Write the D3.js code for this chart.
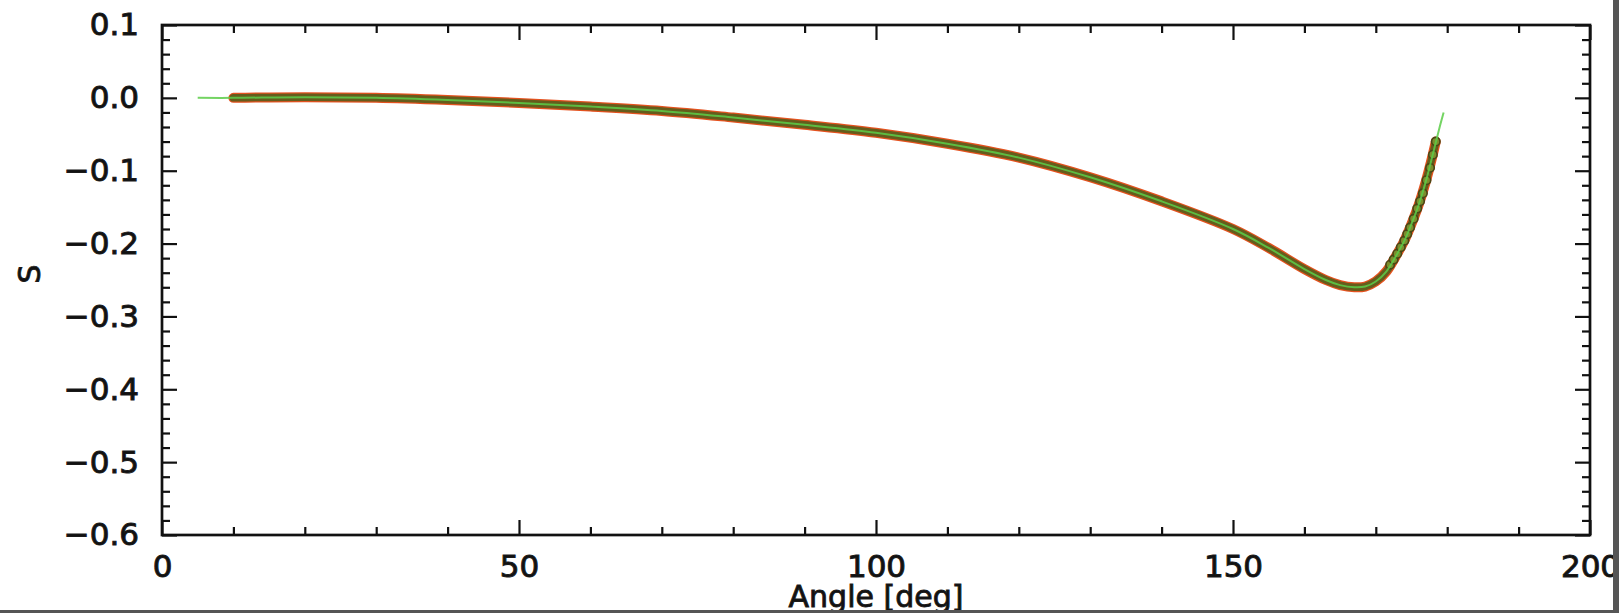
<!DOCTYPE html>
<html>
<head>
<meta charset="utf-8">
<script src="https://cdn.jsdelivr.net/npm/d3@7"></script>
<style>
  body { margin: 0; background: #fff; }
  svg { display: block; }
  text { font-family: "DejaVu Sans", sans-serif; fill: #111; }
</style>
</head>
<body>
<svg id="chart" width="1619" height="613"></svg>
<script>
// values
var fitAngle = [5, 10, 20, 30, 40, 50, 60, 70, 80, 90, 100, 110, 120, 130, 140, 150, 155, 160, 163, 165, 167, 168.5, 170, 171.5, 173, 174, 175, 176, 177, 178, 179, 179.5];
var fitS     = [0.000, 0.000, 0.001, 0.000, -0.003, -0.007, -0.012, -0.018, -0.027, -0.037, -0.048, -0.063, -0.082, -0.109, -0.142, -0.180, -0.206, -0.235, -0.250, -0.257, -0.260, -0.259, -0.252, -0.238, -0.214, -0.196, -0.173, -0.147, -0.115, -0.077, -0.038, -0.020];

var dataAngle = [10, 20, 30, 40, 50, 60, 70, 80, 90, 100, 110, 120, 130, 140, 150, 155, 160, 163, 165, 167, 168.5, 170, 171.5, 173, 174, 175, 176, 177, 178, 178.4];
var dataS     = [0.000, 0.001, 0.000, -0.003, -0.007, -0.012, -0.018, -0.027, -0.037, -0.048, -0.063, -0.082, -0.109, -0.142, -0.180, -0.206, -0.235, -0.250, -0.257, -0.260, -0.259, -0.252, -0.238, -0.214, -0.196, -0.173, -0.147, -0.115, -0.077, -0.060];

// separate symbols seen on the steep end
var markAngle = [172.0, 172.5, 173.0, 173.5, 174.0, 174.4, 174.8, 175.3, 175.8, 176.2, 176.6, 177.1, 177.6, 178.0, 178.4];
var markS     = [-0.229, -0.222, -0.214, -0.205, -0.196, -0.187, -0.178, -0.166, -0.152, -0.142, -0.131, -0.113, -0.096, -0.078, -0.060];

var xMajor = [0, 50, 100, 150, 200];
var xMinor = [10, 20, 30, 40, 60, 70, 80, 90, 110, 120, 130, 140, 160, 170, 180, 190];
var yMajor = [0.1, 0.0, -0.1, -0.2, -0.3, -0.4, -0.5, -0.6];
var yMinor = [];
for (var i = 0; i < 7; i++) {
  for (var j = 1; j < 5; j++) yMinor.push(+(0.1 - i * 0.1 - j * 0.02).toFixed(2));
}

var svg = d3.select("#chart");
var pLeft = 162, pTop = 25, pRight = 1590, pBottom = 535;

var x = d3.scaleLinear().domain([0, 200]).range([pLeft, pRight]);
var y = d3.scaleLinear().domain([-0.6, 0.1]).range([pBottom, pTop]);

function fmtY(d) {
  return (d < 0 ? "\u2212" : "") + Math.abs(d).toFixed(1);
}

// axes, ticks point inward on all four sides
function drawAxis(axis, tr) {
  var g = svg.append("g").attr("transform", tr).call(axis);
  g.select(".domain").remove();
  g.selectAll(".tick line").attr("stroke", "#111").attr("stroke-width", 2.2);
  g.selectAll("text").attr("font-size", 31).attr("font-family", "DejaVu Sans")
    .attr("fill", "#1a1a1a").attr("stroke", "#1a1a1a").attr("stroke-width", 1);
  return g;
}

drawAxis(d3.axisBottom(x).tickValues(xMinor).tickSize(-8).tickFormat(""), "translate(0," + pBottom + ")");
drawAxis(d3.axisBottom(x).tickValues(xMajor).tickSize(-15).tickPadding(20).tickFormat(d3.format("d")), "translate(0," + pBottom + ")");
drawAxis(d3.axisTop(x).tickValues(xMinor).tickSize(-8).tickFormat(""), "translate(0," + pTop + ")");
drawAxis(d3.axisTop(x).tickValues(xMajor).tickSize(-15).tickFormat(""), "translate(0," + pTop + ")");

drawAxis(d3.axisLeft(y).tickValues(yMinor).tickSize(-8).tickFormat(""), "translate(" + pLeft + ",0)");
drawAxis(d3.axisLeft(y).tickValues(yMajor).tickSize(-15).tickPadding(23).tickFormat(fmtY), "translate(" + pLeft + ",0)");
drawAxis(d3.axisRight(y).tickValues(yMinor).tickSize(-8).tickFormat(""), "translate(" + pRight + ",0)");
drawAxis(d3.axisRight(y).tickValues(yMajor).tickSize(-15).tickFormat(""), "translate(" + pRight + ",0)");

svg.append("rect")
  .attr("x", pLeft).attr("y", pTop)
  .attr("width", pRight - pLeft).attr("height", pBottom - pTop)
  .attr("fill", "none").attr("stroke", "#111").attr("stroke-width", 2.7);

// curves
var line = d3.line()
  .x(function(d) { return x(d[0]); })
  .y(function(d) { return y(d[1]); })
  .curve(d3.curveCatmullRom.alpha(0.5));

var dataPts = dataAngle.map(function(a, i) { return [a, dataS[i]]; });
var fitPts = fitAngle.map(function(a, i) { return [a, fitS[i]]; });
var markPts = markAngle.map(function(a, i) { return [a, markS[i]]; });

svg.append("path").datum(dataPts).attr("d", line)
  .attr("fill", "none").attr("stroke", "#e4521f").attr("stroke-width", 10)
  .attr("stroke-linecap", "round").attr("stroke-linejoin", "round");
svg.append("path").datum(dataPts).attr("d", line)
  .attr("fill", "none").attr("stroke", "#655c1c").attr("stroke-width", 7.5)
  .attr("stroke-linecap", "round").attr("stroke-linejoin", "round");

svg.selectAll("circle.mark").data(markPts).enter().append("circle")
  .attr("class", "mark")
  .attr("cx", function(d) { return x(d[0]); })
  .attr("cy", function(d) { return y(d[1]); })
  .attr("r", 4.2)
  .attr("fill", "#7c8d2c")
  .attr("stroke", "#4a4616")
  .attr("stroke-width", 1.6);

svg.append("path").datum(fitPts).attr("d", line)
  .attr("fill", "none").attr("stroke", "#5ccc48").attr("stroke-width", 2)
  .attr("opacity", 0.85);

// axis titles
svg.append("text")
  .attr("x", (pLeft + pRight) / 2).attr("y", 607)
  .attr("text-anchor", "middle").attr("font-size", 30)
  .attr("stroke", "#1a1a1a").attr("stroke-width", 0.9)
  .text("Angle [deg]");

svg.append("text")
  .attr("transform", "translate(40,274) rotate(-90)")
  .attr("text-anchor", "middle").attr("font-size", 30)
  .attr("stroke", "#1a1a1a").attr("stroke-width", 0.9)
  .text("S");

// dark frame at right and bottom edge of the picture
svg.append("rect").attr("x", 1613).attr("y", 0).attr("width", 6).attr("height", 613).attr("fill", "#555");
svg.append("rect").attr("x", 0).attr("y", 610).attr("width", 1619).attr("height", 3).attr("fill", "#555");
</script>
</body>
</html>
